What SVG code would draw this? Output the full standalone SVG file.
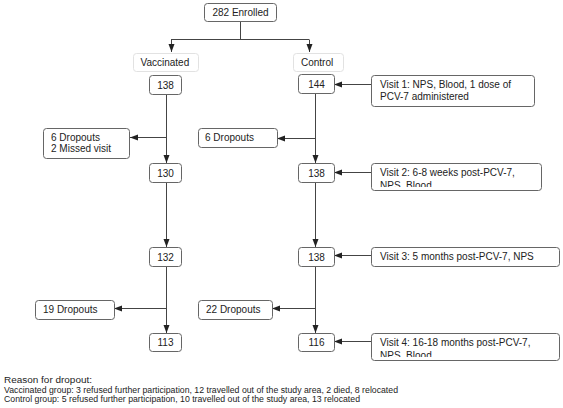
<svg xmlns="http://www.w3.org/2000/svg" width="563" height="408" viewBox="0 0 563 408">
<style>
text{font-family:"Liberation Sans",Arial,sans-serif;font-size:10px;fill:#222}
.b{fill:#fff;stroke:#666;stroke-width:1}
.lb{fill:#fff;stroke:#e2e2e2;stroke-width:1}
.c{text-anchor:middle}
.e{stroke:#444;stroke-width:1;fill:none;marker-end:url(#ah)}
.l{stroke:#444;stroke-width:1;fill:none}
.f{font-size:8.5px}
</style>
<defs>
<marker id="ah" viewBox="0 0 8 8" refX="8" refY="4" markerWidth="8" markerHeight="8" markerUnits="userSpaceOnUse" orient="auto">
<path d="M0,1 L8,4 L0,7 Z" fill="#222"/>
</marker>
<clipPath id="cv2"><rect x="371" y="163" width="170" height="24"/></clipPath>
<clipPath id="cv4"><rect x="371" y="333" width="188" height="24"/></clipPath>
</defs>
<g id="connectors">
<path class="l" d="M240.5,21 V39.5 M171,39.5 H309"/>
<path class="e" d="M171.5,39.5 V52"/>
<path class="e" d="M309.5,39.5 V52"/>
<path class="e" d="M166.5,94 V163"/>
<path class="e" d="M166.5,137.5 H130"/>
<path class="e" d="M166.5,182 V247"/>
<path class="e" d="M166.5,266 V333"/>
<path class="e" d="M166.5,308.5 H114"/>
<path class="e" d="M315.5,93 V163"/>
<path class="e" d="M315.5,138.5 H277"/>
<path class="e" d="M315.5,182 V247"/>
<path class="e" d="M315.5,266 V333"/>
<path class="e" d="M315.5,308.5 H272"/>
<path class="e" d="M371,84.5 H334"/>
<path class="e" d="M371,172.5 H334"/>
<path class="e" d="M371,255.5 H334"/>
<path class="e" d="M371,341.5 H334"/>
</g>
<g id="enrolled"><rect class="b" x="204.5" y="3.5" width="72" height="18" rx="3"/><text class="c" x="240.5" y="16">282 Enrolled</text></g>
<g id="vaccinated"><rect class="lb" x="133.5" y="53.5" width="65" height="18" rx="3"/><text x="140.5" y="66">Vaccinated</text></g>
<g id="control"><rect class="lb" x="293.5" y="53.5" width="50" height="18" rx="3"/><text x="301" y="66">Control</text></g>
<g id="v138"><rect class="b" x="149.5" y="75.5" width="32" height="19" rx="3"/><text class="c" x="165.5" y="88.5">138</text></g>
<g id="v130"><rect class="b" x="149.5" y="163.5" width="32" height="19" rx="3"/><text class="c" x="165.5" y="176.5">130</text></g>
<g id="v132"><rect class="b" x="149.5" y="247.5" width="32" height="19" rx="3"/><text class="c" x="165.5" y="260.5">132</text></g>
<g id="v113"><rect class="b" x="149.5" y="333.5" width="32" height="18" rx="3"/><text class="c" x="165.5" y="346">113</text></g>
<g id="c144"><rect class="b" x="298.5" y="74.5" width="36" height="19" rx="3"/><text class="c" x="316.5" y="87.5">144</text></g>
<g id="c138a"><rect class="b" x="298.5" y="163.5" width="36" height="19" rx="3"/><text class="c" x="316.5" y="176.5">138</text></g>
<g id="c138b"><rect class="b" x="298.5" y="247.5" width="36" height="19" rx="3"/><text class="c" x="316.5" y="260.5">138</text></g>
<g id="c116"><rect class="b" x="298.5" y="333.5" width="36" height="18" rx="3"/><text class="c" x="316.5" y="346">116</text></g>
<g id="vdrop1"><rect class="b" x="43.5" y="128.5" width="86" height="30" rx="3"/><text x="51" y="141">6 Dropouts</text><text x="51" y="152">2 Missed visit</text></g>
<g id="cdrop1"><rect class="b" x="198.5" y="128.5" width="79" height="19" rx="3"/><text x="205" y="141">6 Dropouts</text></g>
<g id="vdrop2"><rect class="b" x="35.5" y="300.5" width="79" height="19" rx="3"/><text x="43" y="313">19 Dropouts</text></g>
<g id="cdrop2"><rect class="b" x="198.5" y="300.5" width="74" height="19" rx="3"/><text x="206" y="313">22 Dropouts</text></g>
<g id="visit1"><rect class="b" x="371.5" y="75.5" width="163" height="31" rx="3"/><text x="380" y="88">Visit 1: NPS, Blood, 1 dose of</text><text x="380" y="99.5">PCV-7 administered</text></g>
<g id="visit2"><rect class="b" x="371.5" y="163.5" width="170" height="27" rx="3"/><g clip-path="url(#cv2)"><text x="380" y="176">Visit 2: 6-8 weeks post-PCV-7,</text><text x="380" y="189">NPS, Blood</text></g></g>
<g id="visit3"><rect class="b" x="371.5" y="247.5" width="188" height="19" rx="3"/><text x="380" y="260">Visit 3: 5 months post-PCV-7, NPS</text></g>
<g id="visit4"><rect class="b" x="371.5" y="333.5" width="188" height="27" rx="3"/><g clip-path="url(#cv4)"><text x="380" y="346">Visit 4: 16-18 months post-PCV-7,</text><text x="380" y="359">NPS, Blood</text></g></g>
<g id="footer">
<text class="f" x="4" y="383" textLength="88" lengthAdjust="spacingAndGlyphs">Reason for dropout:</text>
<text class="f" x="4" y="392.5" textLength="394" lengthAdjust="spacingAndGlyphs">Vaccinated group: 3 refused further participation, 12 travelled out of the study area, 2 died, 8 relocated</text>
<text class="f" x="4" y="402" textLength="356" lengthAdjust="spacingAndGlyphs">Control group: 5 refused further participation, 10 travelled out of the study area, 13 relocated</text>
</g>
</svg>
